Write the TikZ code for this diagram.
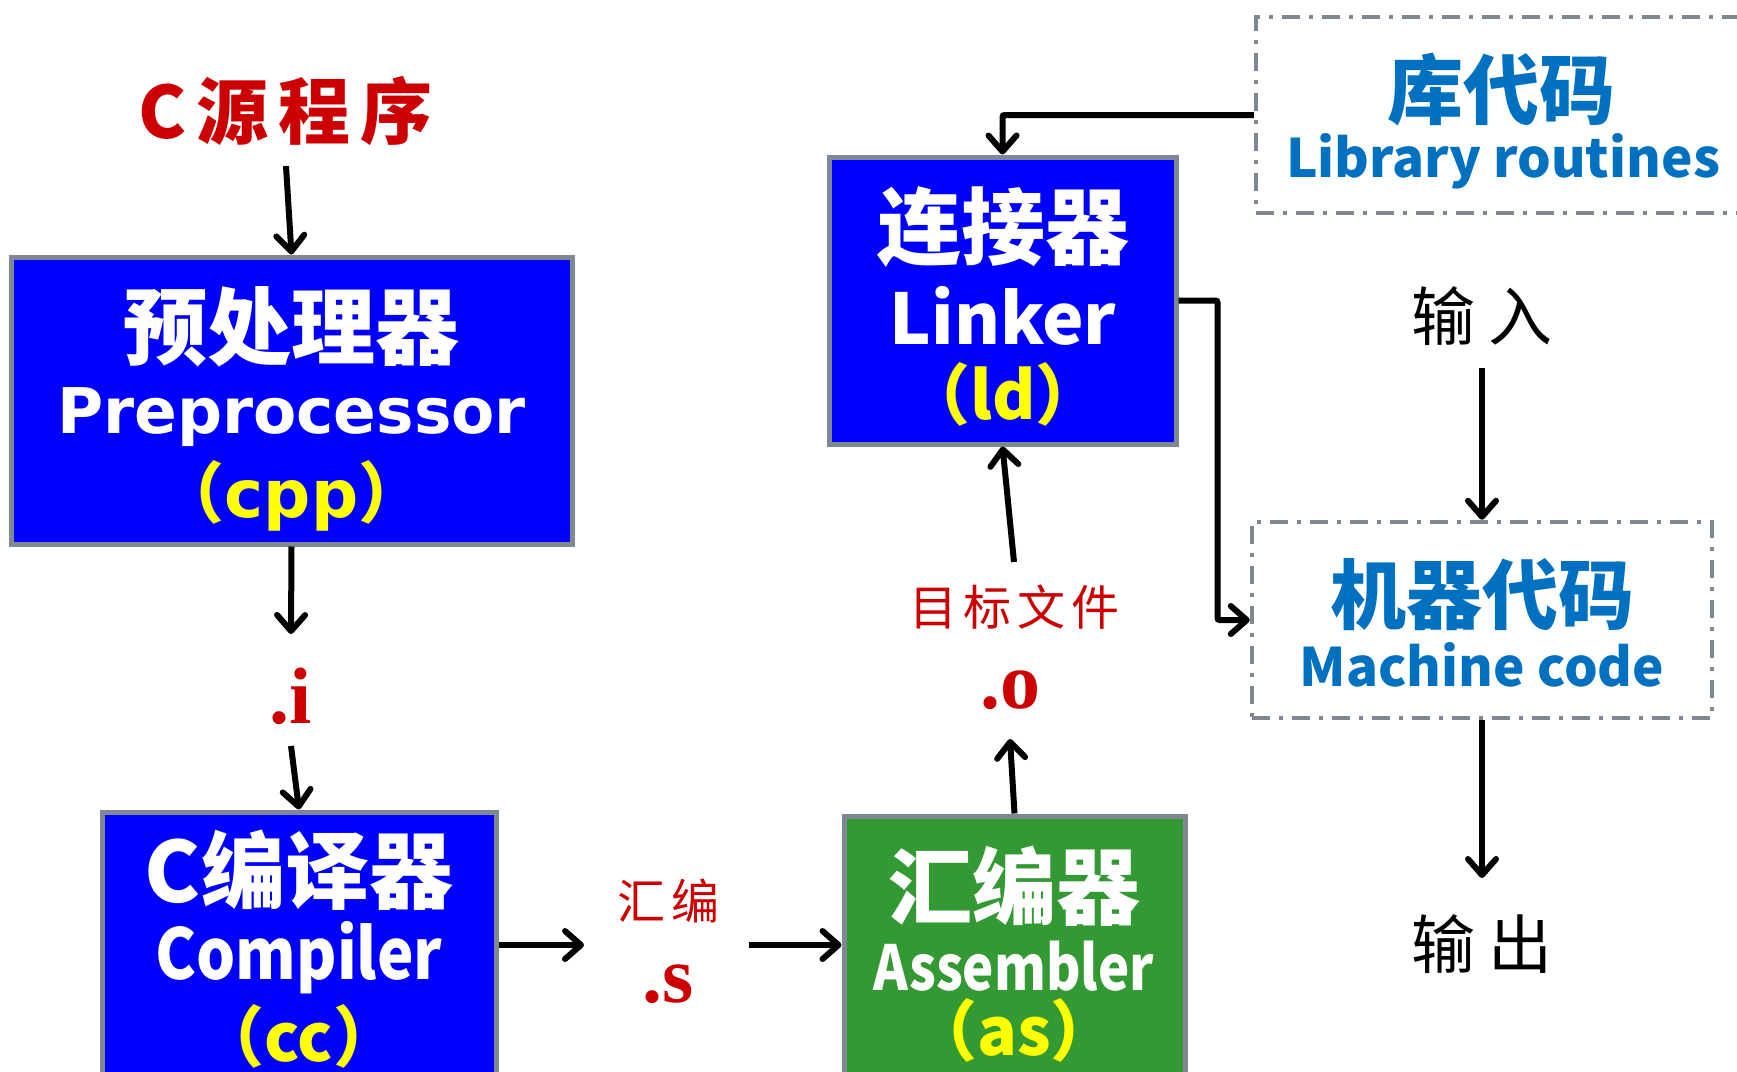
\documentclass[tikz,border=0pt]{standalone}
\usepackage{fontspec}
\setmainfont{DejaVu Sans}
\newfontfamily\cjk{Noto Sans CJK SC}
\newfontfamily\cjkn{Noto Sans CJK SC}[FakeStretch=0.88]
\newfontfamily\cjknn{Noto Sans CJK SC}[FakeStretch=0.85]
\newfontfamily\dv{DejaVu Sans}
\newfontfamily\tm{Liberation Serif}
\usetikzlibrary{arrows.meta}
\definecolor{boxblue}{RGB}{0,0,255}
\definecolor{boxgreen}{RGB}{51,153,51}
\definecolor{edgegray}{RGB}{127,136,146}
\definecolor{lblred}{RGB}{204,0,0}
\definecolor{txtblue}{RGB}{0,112,192}
\definecolor{yel}{RGB}{255,255,0}
\newcommand\fsz[1]{\fontsize{#1}{#1}\selectfont}
\begin{document}
\begin{tikzpicture}[x=1pt,y=-1pt,
  toolbox/.style={draw=edgegray,line width=5pt,inner sep=0pt,rectangle},
  dashbox/.style={draw=edgegray,line width=4.5pt,inner sep=0pt,rectangle,dash pattern=on 18pt off 9pt on 4pt off 9pt},
  arr/.style={line width=6pt,rounded corners=2pt,-{Straight Barb[length=16pt,width=28pt,round]}},
  txt/.style={inner sep=0pt,anchor=center},
  cjkw/.style={txt,text=white,font=\cjk\bfseries\fsz{84}},
  yl/.style={txt,text=yel,font=\cjk\bfseries\fsz{66}},
  redl/.style={txt,text=lblred,font=\cjk\fsz{48}},
  ext/.style={txt,text=lblred,font=\tm\bfseries\fsz{80}},
  blk/.style={txt,text=black,font=\cjk\fsz{64}},
  bluec/.style={txt,text=txtblue,font=\cjk\bfseries\fsz{76}},
  bluel/.style={txt,text=txtblue,font=\cjk\bfseries\fsz{53}}
]
\useasboundingbox (0,0) rectangle (1737,1071);
\clip (0,0) rectangle (1737,1071);

% boxes
\node[toolbox,fill=boxblue,minimum width=561pt,minimum height=287pt] (pre) at (291.5,400.5) {};
\node[toolbox,fill=boxblue,minimum width=394pt,minimum height=300pt] (cc) at (299,962) {};
\node[toolbox,fill=boxgreen,minimum width=341pt,minimum height=300pt] (as) at (1014.5,966) {};
\node[toolbox,fill=boxblue,minimum width=347pt,minimum height=287pt] (link) at (1002.5,300.5) {};
\node[dashbox,minimum width=504pt,minimum height=196pt] (lib) at (1508,115) {};
\node[dashbox,minimum width=460pt,minimum height=196pt] (mach) at (1482,620) {};

% box texts
\node[cjkw] (preA) at (291.5,327) {预处理器};
\node[txt,text=white,font=\dv\bfseries\fsz{63}] (preB) at (291.5,417) {Preprocessor};
\node[yl] (preC) at (291.5,496) {（\dv cpp\cjk ）};

\node[cjkw] (ccA) at (299,870) {C编译器};
\node[txt,text=white,font=\cjkn\bfseries\fsz{70}] (ccB) at (299,958) {Compiler};
\node[yl] (ccC) at (299,1036) {（cc）};

\node[cjkw] (asA) at (1014,886) {汇编器};
\node[txt,text=white,font=\cjknn\bfseries\fsz{62}] (asB) at (1014,966) {Assembler};
\node[yl] (asC) at (1014,1030) {（as）};

\node[cjkw] (lkA) at (1003,227) {连接器};
\node[txt,text=white,font=\cjk\bfseries\fsz{70}] (lkB) at (1003,316) {Linker};
\node[yl] (lkC) at (1003,394) {（ld）};

\node[bluec] (libA) at (1501,89) {库代码};
\node[bluel] (libB) at (1503,161) {Library routines};

\node[bluec] (machA) at (1482,595) {机器代码};
\node[bluel] (machB) at (1482,665) {Machine code};

% labels
\node[txt,text=lblred,font=\cjk\bfseries\fsz{72}] (src) at (286,111) {C\kern10pt 源\kern10pt 程\kern10pt 序};
\node[ext] (dI) at (291,696) {.i};
\node[redl] (hb) at (668,901) {汇\kern6pt 编};
\node[ext] (dS) at (668,984) {.s};
\node[ext] (dO) at (1010,690) {.o};
\node[redl] (tf) at (1014,607) {目\kern6pt 标\kern6pt 文\kern6pt 件};
\node[blk] (inp) at (1482,316) {输\kern14pt 入};
\node[blk] (outp) at (1482,944) {输\kern14pt 出};

\coordinate (sin) at (584,945);
\coordinate (sout) at (749,945);

% connectors
\draw[arr] ([yshift=-55pt]src.center) -- (pre.north);
\draw[arr] (pre.south) -- ([yshift=62pt]dI.center);
\draw[arr] ([yshift=-50pt]dI.center) -- (cc.north);
\draw[arr] ([yshift=17pt]cc.east) -- (sin);
\draw[arr] (sout) -- (sout -| as.west);
\draw[arr] (as.north) -- ([yshift=-49pt]dO.center);
\draw[arr] ([yshift=45pt]tf.center) -- (link.south);
\draw[arr] (lib.west) -| (link.north);
\draw[arr] (link.east) -- ++(39,0) |- (mach.west);
\draw[arr] ([yshift=-52pt]inp.center) -- (mach.north);
\draw[arr] (mach.south) -- ([yshift=66pt]outp.center);
\end{tikzpicture}
\end{document}
